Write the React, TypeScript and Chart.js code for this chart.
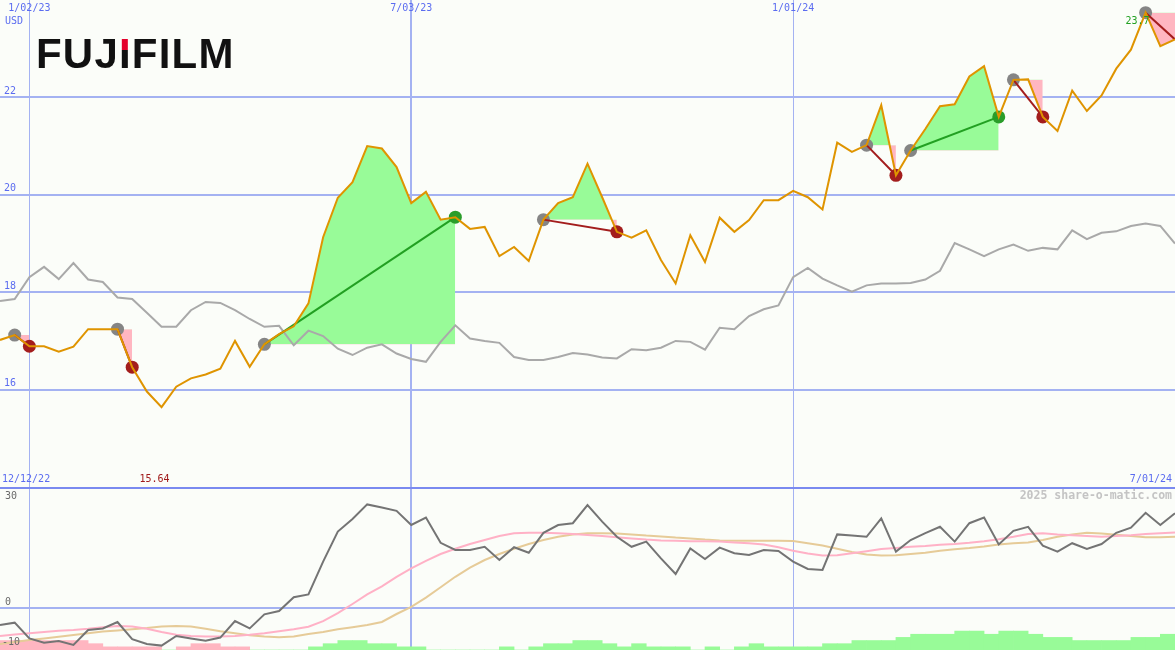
import React, { useEffect, useRef } from 'react';
import { Chart, registerables } from 'chart.js';

Chart.register(...registerables);

// ---------- data ----------
// weekly closes, index 0 = week of 12/19/22, index 80 = 7/01/24
const price = [
  17.02, 17.12, 16.89, 16.89, 16.78, 16.88, 17.24, 17.24, 17.24, 16.46,
  15.96, 15.64, 16.06, 16.23, 16.31, 16.43, 17.0, 16.47, 16.93, 17.14,
  17.3, 17.77, 19.13, 19.94, 20.26, 21.0, 20.95, 20.57, 19.83, 20.06,
  19.49, 19.54, 19.3, 19.34, 18.74, 18.93, 18.64, 19.49, 19.83, 19.95,
  20.64, 19.95, 19.24, 19.12, 19.27, 18.66, 18.18, 19.17, 18.62, 19.53,
  19.24, 19.48, 19.89, 19.89, 20.08, 19.95, 19.7, 21.07, 20.88, 21.02,
  21.84, 20.4, 20.91, 21.35, 21.82, 21.86, 22.43, 22.64, 21.6, 22.36,
  22.37, 21.6, 21.31, 22.14, 21.72, 22.04, 22.59, 22.98, 23.74, 23.05,
  23.19,
];

// comparison index (grey line), on the price scale
const relative = [
  17.82, 17.86, 18.31, 18.52, 18.27, 18.6, 18.26, 18.21, 17.89, 17.86,
  17.58, 17.29, 17.29, 17.63, 17.8, 17.78, 17.63, 17.45, 17.29, 17.31,
  16.91, 17.21, 17.1, 16.84, 16.71, 16.86, 16.93, 16.74, 16.63, 16.57,
  16.98, 17.32, 17.05, 17.0, 16.96, 16.67, 16.61, 16.61, 16.67, 16.75,
  16.72, 16.66, 16.64, 16.83, 16.81, 16.86, 17.0, 16.98, 16.82, 17.27,
  17.24, 17.51, 17.65, 17.73, 18.31, 18.5, 18.28, 18.14, 18.01, 18.14,
  18.18, 18.18, 18.19, 18.26, 18.44, 19.01, 18.88, 18.74, 18.88, 18.98,
  18.85, 18.91, 18.88, 19.27, 19.09, 19.22, 19.25, 19.36, 19.41, 19.36,
  19.0,
];

// lower panel oscillator (dark grey)
const osc = [
  -4.25, -3.67, -7.6, -8.7, -8.25, -9.25, -5.5, -5.1, -3.5, -7.8,
  -9.0, -9.4, -7.0, -7.6, -8.2, -7.4, -3.25, -5.1, -1.6, -0.75,
  2.7, 3.4, 11.6, 19.1, 22.25, 25.9, 25.1, 24.3, 20.75, 22.6,
  16.3, 14.5, 14.5, 15.3, 12.0, 15.2, 13.8, 18.8, 20.75, 21.2,
  25.75, 21.6, 17.8, 15.3, 16.6, 12.4, 8.5, 14.9, 12.25, 15.1,
  13.7, 13.25, 14.5, 14.25, 11.6, 9.75, 9.5, 18.4, 18.1, 17.8,
  22.4, 14.1, 17.0, 18.7, 20.3, 16.6, 21.2, 22.6, 15.9, 19.3,
  20.3, 15.6, 14.1, 16.2, 14.75, 16.0, 18.8, 20.1, 23.8, 20.75,
  23.7,
];

// fast average (pink)
const oscFast = [
  -7.0, -6.6, -6.3, -6.0, -5.7, -5.5, -5.2, -4.8, -4.5, -4.6,
  -5.2, -6.0, -6.7, -7.0, -7.1, -7.1, -7.0, -6.7, -6.3, -5.8,
  -5.3, -4.7, -3.3, -1.3, 1.0, 3.4, 5.4, 7.8, 9.9, 11.8,
  13.5, 14.8, 16.0, 17.0, 18.0, 18.7, 18.8, 18.8, 18.7, 18.5,
  18.25, 18.0, 17.7, 17.4, 17.1, 16.9, 16.8, 16.7, 16.7, 16.6,
  16.4, 16.2, 15.9, 15.2, 14.3, 13.6, 13.1, 13.2, 13.7, 14.2,
  14.75, 15.0, 15.3, 15.5, 15.8, 16.0, 16.3, 16.7, 17.2, 17.8,
  18.5, 18.7, 18.4, 18.2, 18.0, 17.8, 18.0, 18.2, 18.5, 18.7,
  18.9,
];

// slow average (tan)
const oscSlow = [
  -9.0, -8.5, -8.0, -7.6, -7.2, -6.75, -6.3, -5.9, -5.6, -5.3,
  -5.0, -4.6, -4.5, -4.6, -5.2, -5.8, -6.3, -6.8, -7.1, -7.3,
  -7.1, -6.5, -6.0, -5.3, -4.8, -4.25, -3.5, -1.5, 0.3, 2.6,
  5.2, 7.8, 10.1, 12.0, 13.5, 14.8, 16.0, 17.0, 17.8, 18.4,
  18.7, 18.7, 18.6, 18.4, 18.1, 17.9, 17.6, 17.4, 17.1, 16.9,
  16.8, 16.8, 16.8, 16.8, 16.75, 16.2, 15.6, 14.8, 14.0, 13.4,
  13.1, 13.2, 13.5, 13.8, 14.3, 14.7, 15.0, 15.4, 15.9, 16.2,
  16.4, 17.0, 17.8, 18.4, 18.8, 18.6, 18.3, 18.0, 17.7, 17.7,
  17.8,
];

// histogram levels for each week interval [k, k+1]; negative = pink, positive = green
const barLevels = [
  -3, -3, -3, -3, -3, -3, -2, -1, -1, -1,
  -1, 0, -1, -2, -2, -1, -1, 0, 0, 0,
  0, 1, 2, 3, 3, 2, 2, 1, 1, 0,
  0, 0, 0, 0, 1, 0, 1, 2, 2, 3,
  3, 2, 1, 2, 1, 1, 1, 0, 1, 0,
  1, 2, 1, 1, 1, 1, 2, 2, 3, 3,
  3, 4, 5, 5, 5, 6, 6, 5, 6, 6,
  5, 4, 4, 3, 3, 3, 3, 4, 4, 5,
];

// trades (week indices)
const tradeEntries = [1, 8, 18, 37, 59, 62, 69, 78];
const tradeExits = [2, 9, 31, 42, 61, 68, 71, 80];
const tradeOpen = [false, false, false, false, false, false, false, true];

// axis labels
const xTickIdx = [2, 28, 54];
const xTickLabels = ['1/02/23', '7/03/23', '1/01/24'];
const priceTicks = [16, 18, 20, 22];
const oscTicks = [30, 0, -10];
const startLabel = '12/12/22';
const endLabel = '7/01/24';
const minLabel = '15.64';
const maxLabel = '23.7';
const currencyLabel = 'USD';
const watermark = '2025 share-o-matic.com';
const logoText = 'FUJIFILM';

// ---------- styles ----------
const BG = '#fbfdf9';
const GRID = '#a4b2f2';
const SEP = '#7a8af0';
const BLUE_TXT = '#5b6cf0';
const MONO = '"DejaVu Sans Mono", monospace';
const GREEN_FILL = '#98fb98';
const PINK_FILL = '#ffb6c1';
const WIN = '#22a022';
const LOSS = '#a31d1d';

const pts = (arr: number[]) => arr.map((v, i) => ({ x: i, y: v }));

function xScaleOpts() {
  return {
    type: 'linear' as const,
    min: 0,
    max: price.length - 1,
    offset: false,
    afterBuildTicks: (s: any) => {
      s.ticks = xTickIdx.map((v) => ({ value: v }));
    },
    ticks: { display: false },
    grid: {
      color: GRID,
      lineWidth: (c: any) => (c.tick && c.tick.value === xTickIdx[1] ? 2 : 1),
      drawTicks: false,
      offset: false,
    },
    border: { display: false },
  };
}

export default function App() {
  const topRef = useRef<HTMLCanvasElement>(null);
  const botRef = useRef<HTMLCanvasElement>(null);

  useEffect(() => {
    const fills: any[] = [];
    const tradeLines: any[] = [];
    const markerData: any[] = [];
    const markerColors: string[] = [];
    const markerRadius: number[] = [];
    tradeEntries.forEach((e, t) => {
      const x = tradeExits[t];
      const win = price[x] >= price[e];
      fills.push({
        data: price.slice(e, x + 1).map((v, k) => ({ x: e + k, y: v })),
        borderWidth: 0,
        pointRadius: 0,
        fill: { target: { value: price[e] }, above: GREEN_FILL, below: PINK_FILL },
        order: 10,
      });
      tradeLines.push({
        data: [
          { x: e, y: price[e] },
          { x, y: price[x] },
        ],
        borderColor: win ? WIN : LOSS,
        borderWidth: 2,
        pointRadius: 0,
        fill: false,
        order: 6,
      });
      markerData.push({ x: e, y: price[e] });
      markerColors.push('#858585');
      markerRadius.push(6.5);
      if (!tradeOpen[t]) {
        markerData.push({ x, y: price[x] });
        markerColors.push(win ? '#2a9d2a' : '#a31d1d');
        markerRadius.push(6.5);
      }
    });

    const minIdx = price.indexOf(Math.min(...price));
    const maxIdx = price.indexOf(Math.max(...price));

    const topText = {
      id: 'topText',
      afterDraw(chart: any) {
        const { ctx } = chart;
        const xs = chart.scales.x;
        const ys = chart.scales.y;
        ctx.save();
        ctx.textBaseline = 'middle';
        ctx.font = `10px ${MONO}`;
        ctx.fillStyle = BLUE_TXT;
        ctx.textAlign = 'left';
        priceTicks.forEach((v) => ctx.fillText(String(v), 4, ys.getPixelForValue(v) - 6));
        ctx.fillText(currencyLabel, 5, 21);
        ctx.textAlign = 'center';
        xTickIdx.forEach((v, i) => ctx.fillText(xTickLabels[i], xs.getPixelForValue(v), 8));
        ctx.textAlign = 'left';
        ctx.fillText(startLabel, 2, 479);
        ctx.textAlign = 'right';
        ctx.fillText(endLabel, chart.width - 3, 479);
        ctx.fillStyle = '#a01a1a';
        ctx.textAlign = 'center';
        ctx.fillText(minLabel, xs.getPixelForValue(minIdx) - 7, 479);
        ctx.fillStyle = WIN;
        ctx.textAlign = 'right';
        ctx.fillText(maxLabel, xs.getPixelForValue(maxIdx) + 4, 21);

        // logo
        ctx.textAlign = 'left';
        ctx.textBaseline = 'alphabetic';
        ctx.font = 'bold 42px "Liberation Sans", Arial, sans-serif';
        let lx = 36;
        const grad = ctx.createLinearGradient(0, 38, 0, 68);
        grad.addColorStop(0, '#e4002b');
        grad.addColorStop(0.4, '#e4002b');
        grad.addColorStop(0.41, '#111111');
        grad.addColorStop(1, '#111111');
        logoText.split('').forEach((ch, i) => {
          ctx.fillStyle = i === 3 ? grad : '#111111';
          ctx.fillText(ch, lx, 68);
          lx += ctx.measureText(ch).width + 1.2;
        });
        ctx.restore();
      },
    };

    const top = new Chart(topRef.current!, {
      type: 'line',
      data: {
        datasets: [
          {
            data: pts(relative),
            borderColor: '#a9a9a9',
            borderWidth: 2,
            pointRadius: 0,
            fill: false,
            order: 9,
          },
          ...fills,
          ...tradeLines,
          {
            data: markerData,
            showLine: false,
            pointRadius: markerRadius,
            pointBackgroundColor: markerColors,
            pointBorderWidth: 0,
            order: 7,
          },
          {
            data: pts(price),
            borderColor: '#df9400',
            borderWidth: 2,
            pointRadius: 0,
            fill: false,
            order: 5,
          },
        ],
      },
      options: {
        animation: false,
        responsive: false,
        maintainAspectRatio: false,
        events: [],
        layout: { padding: 0, autoPadding: false },
        plugins: { legend: { display: false }, tooltip: { enabled: false } },
        scales: {
          x: xScaleOpts(),
          y: {
            min: 14,
            max: 24,
            afterBuildTicks: (s: any) => {
              s.ticks = priceTicks.map((v) => ({ value: v }));
            },
            ticks: { display: false },
            grid: { color: GRID, lineWidth: 2, drawTicks: false },
            border: { display: false },
          },
        },
      } as any,
      plugins: [topText],
    } as any);

    const botText = {
      id: 'botText',
      afterDraw(chart: any) {
        const { ctx } = chart;
        const ys = chart.scales.y;
        ctx.save();
        ctx.textBaseline = 'middle';
        ctx.font = `10px ${MONO}`;
        ctx.fillStyle = '#6a6a6a';
        ctx.textAlign = 'left';
        oscTicks.forEach((v) => {
          const p = ys.getPixelForValue(v);
          const yy = p - 6 < 6 ? p + 8 : p - 6;
          ctx.fillText(String(v), v < 0 ? 2 : 5, yy);
        });
        ctx.font = `bold 11.5px ${MONO}`;
        ctx.fillStyle = '#c4c4c4';
        ctx.textAlign = 'right';
        ctx.fillText(watermark, chart.width - 3, 9);
        ctx.restore();
      },
    };

    const bot = new Chart(botRef.current!, {
      type: 'line',
      data: {
        datasets: [
          {
            type: 'bar',
            yAxisID: 'yb',
            data: barLevels.map((v, k) => ({ x: k + 0.5, y: Math.abs(v) })),
            backgroundColor: barLevels.map((v) => (v < 0 ? PINK_FILL : GREEN_FILL)),
            borderWidth: 0,
            barPercentage: 1,
            categoryPercentage: 1,
            order: 10,
          },
          {
            data: pts(oscSlow),
            borderColor: '#e6cb98',
            borderWidth: 2,
            pointRadius: 0,
            order: 8,
          },
          {
            data: pts(oscFast),
            borderColor: '#ffb1c6',
            borderWidth: 2,
            pointRadius: 0,
            order: 7,
          },
          {
            data: pts(osc),
            borderColor: '#747474',
            borderWidth: 2,
            pointRadius: 0,
            order: 5,
          },
        ],
      },
      options: {
        animation: false,
        responsive: false,
        maintainAspectRatio: false,
        events: [],
        layout: { padding: 0, autoPadding: false },
        plugins: { legend: { display: false }, tooltip: { enabled: false } },
        scales: {
          x: xScaleOpts(),
          y: {
            min: -10.5,
            max: 30.25,
            afterBuildTicks: (s: any) => {
              s.ticks = [oscTicks[0], oscTicks[1]].map((v) => ({ value: v }));
            },
            ticks: { display: false },
            grid: {
              color: (c: any) => (c.tick && c.tick.value === oscTicks[0] ? SEP : GRID),
              lineWidth: 2,
              drawTicks: false,
            },
            border: { display: false },
          },
          yb: {
            display: false,
            min: 0,
            max: 51.7,
          },
        },
      } as any,
      plugins: [botText],
    } as any);

    return () => {
      top.destroy();
      bot.destroy();
    };
  }, []);

  return (
    <div
      style={{
        position: 'fixed',
        left: 0,
        top: 0,
        width: 1175,
        height: 650,
        background: BG,
        overflow: 'hidden',
      }}
    >
      <canvas
        ref={topRef}
        width={1175}
        height={487}
        style={{ position: 'absolute', left: 0, top: 0, width: 1175, height: 487 }}
      />
      <canvas
        ref={botRef}
        width={1175}
        height={163}
        style={{ position: 'absolute', left: 0, top: 487, width: 1175, height: 163 }}
      />
    </div>
  );
}
